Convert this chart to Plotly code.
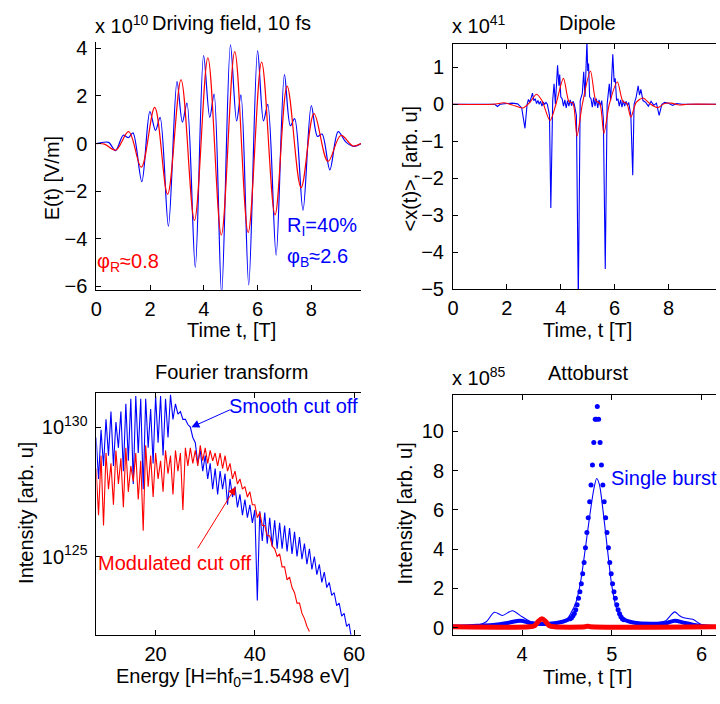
import plotly.graph_objects as go

FONT = "Liberation Sans, Arial, Helvetica, sans-serif"
BLUE = "#0000ff"
RED = "#ff0000"
W, H = 720, 704

# ---------------- Panel 1: Driving field (x 1e10 V/m) ----------------
field_red_t = [0.0, 0.3, 0.72, 1.2, 1.67, 2.17, 2.65, 3.15, 3.65, 4.15, 4.65, 5.15,
               5.65, 6.15, 6.65, 7.1, 7.62, 8.1, 8.62, 9.1, 9.55, 9.85]
field_red_E = [0.0, -0.02, -0.27, 0.5, -0.99, 1.52, -2.12, 2.68, -3.22, 3.6, -3.84, 3.86,
               -3.73, 3.42, -2.99, 2.41, -1.85, 1.26, -0.75, 0.34, -0.1, 0.0]
field_blue_t = [0.0, 0.45, 0.71, 1.0, 1.19, 1.36, 1.69,
                1.99, 2.2, 2.37, 2.68,
                3.0, 3.2, 3.37, 3.68,
                3.99, 4.22, 4.38, 4.66,
                4.99, 5.22, 5.38, 5.67,
                6.0, 6.22, 6.38, 6.69,
                7.0, 7.22, 7.38, 7.69,
                8.0, 8.23, 8.4, 8.69,
                9.0, 9.3, 9.6, 9.85]
field_blue_E = [0.0, 0.05, -0.3, 0.35, 0.25, 0.45, -1.6,
                1.34, 0.55, 1.1, -3.47,
                2.6, 0.9, 1.7, -5.2,
                3.7, 1.1, 2.08, -6.3,
                4.15, 0.95, 2.05, -5.93,
                3.9, 0.95, 1.65, -4.68,
                2.9, 0.75, 1.05, -2.8,
                1.6, 0.3, 0.4, -1.1,
                0.5, 0.05, -0.12, 0.0]

# ---------------- Panel 2: Dipole (x 1e41) ----------------
dip_red_t = [0.0, 1.5, 1.9, 2.2, 2.6, 2.85, 3.1, 3.3, 3.6, 3.82, 4.1, 4.3, 4.45, 4.6, 4.8,
             5.1, 5.3, 5.45, 5.6, 5.8, 6.1, 6.3, 6.45, 6.6, 6.8, 7.05, 7.3, 7.6, 7.85,
             8.1, 8.4, 8.7, 9.76]
dip_red_x = [0.0, 0.0, 0.04, -0.02, -0.1, 0.05, 0.27, 0.1, -0.44, 0.0, 0.7, 0.08, 0.03, -0.86, 0.0,
             0.9, 0.1, 0.02, -0.79, 0.0, 0.6, 0.08, 0.02, -0.35, 0.05, 0.17, 0.02, -0.09, 0.02,
             0.03, -0.02, 0.0, 0.0]
dip_blue_t = [0.0, 1.55, 1.65, 1.75, 2.0, 2.2, 2.4, 2.55, 2.67, 2.75, 2.8, 2.85, 2.95, 3.0,
              3.05, 3.1, 3.15, 3.2, 3.25, 3.3, 3.35, 3.4, 3.45, 3.5, 3.58, 3.63, 3.7, 3.75,
              3.8, 3.88, 3.93, 3.96, 4.0, 4.05, 4.1, 4.15, 4.2, 4.25, 4.3, 4.35, 4.4,
              4.45, 4.5, 4.58, 4.65, 4.72, 4.8, 4.85, 4.9, 4.97, 5.0, 5.03, 5.07,
              5.12, 5.17, 5.22, 5.27, 5.32, 5.37, 5.42, 5.47, 5.52, 5.58, 5.65, 5.72,
              5.8, 5.85, 5.93, 5.98, 6.02, 6.07, 6.12, 6.17, 6.22, 6.27, 6.32, 6.37,
              6.42, 6.47, 6.52, 6.6, 6.67, 6.72, 6.8, 6.87, 6.92, 6.97, 7.05, 7.15,
              7.25, 7.35, 7.45, 7.55, 7.65, 7.75, 7.85, 8.0, 8.15, 8.3, 8.5, 9.76]
dip_blue_x = [0.0, 0.0, -0.06, 0.0, 0.02, 0.03, 0.01, -0.1, -0.65, 0.0, 0.13, 0.05, 0.3, 0.1,
              0.15, 0.02, 0.1, 0.0, 0.08, -0.05, 0.06, 0.0, 0.05, 0.0, -0.3, -2.8, 0.1, 0.55,
              0.0, 1.05, 0.5, 0.8, 0.2, 0.15, -0.05, 0.12, -0.1, 0.1, -0.05, 0.12, -0.04,
              0.08, 0.0, -0.3, -5.3, 0.1, 0.3, 0.88, 0.2, 1.7, 0.9, 1.1, 0.2,
              0.15, -0.08, 0.18, -0.05, 0.15, -0.1, 0.12, -0.05, 0.1, -0.4, -4.45, 0.0,
              0.55, 0.1, 1.35, 0.6, 0.7, 0.1, 0.15, -0.05, 0.12, -0.08, 0.1, -0.05,
              0.08, -0.03, 0.05, -0.3, -1.92, 0.0, 0.2, 0.5, 0.25, 0.4, 0.1, 0.05,
              -0.05, 0.08, -0.03, 0.03, -0.3, 0.0, 0.05, 0.03, -0.03, 0.02, 0.0, 0.0]

# ---------------- Panel 3: Fourier transform (log10 intensity) ----------------
fft_harm = list(range(8, 61))            # harmonic order of each peak
blue_peak_log = [129.6, 129.9, 130.3, 130.6, 130.2, 130.6, 130.9, 131.1, 131.2, 131.1,
                 131.1, 130.7, 131.2, 131.2, 131.1, 131.25, 130.9, 130.6, 130.3, 130.0,
                 129.4, 129.1, 128.9, 128.6, 128.4, 128.3, 128.2, 128.0, 127.7, 127.4,
                 127.2, 127.0, 126.8, 126.75, 126.7, 126.5, 126.4, 126.3, 126.2, 126.1,
                 125.95, 125.75, 125.5, 125.3, 125.0, 124.7, 124.4, 124.0, 123.6, 123.2,
                 122.8, 122.4, 121.9]
blue_trough_log = [128.0, 128.5, 128.9, 128.5, 129.2, 128.3, 128.7, 127.8, 129.0, 127.6,
                   129.2, 128.6, 129.4, 128.9, 129.6, 130.3, 130.5, 130.3, 130.1, 129.6,
                   128.6, 128.3, 128.0, 127.6, 127.4, 127.6, 127.0, 127.3, 126.9, 126.6,
                   126.5, 126.3, 123.3, 125.6, 125.5, 125.4, 125.3, 125.3, 125.2, 125.1,
                   125.0, 124.9, 124.7, 124.5, 124.3, 124.0, 123.8, 123.5, 123.1, 122.7,
                   122.3, 121.8]
red_harm = list(range(8, 52))
red_peak_log = [128.4, 128.9, 129.0, 128.6, 129.1, 128.8, 129.2, 128.5, 129.0, 128.7,
                129.3, 128.9, 129.0, 128.7, 129.1, 128.9, 129.1, 129.0, 129.2, 129.2,
                129.1, 129.3, 129.2, 129.1, 129.0, 129.0, 128.9, 128.6, 128.3, 128.0,
                127.7, 127.5, 127.0, 126.7, 126.2, 125.8, 125.3, 125.1, 124.6, 124.2,
                123.6, 123.2, 122.6, 122.1]
red_trough_log = [126.6, 126.2, 127.6, 127.0, 127.8, 126.9, 127.5, 127.9, 127.2, 126.0,
                  127.7, 127.3, 128.0, 127.5, 128.2, 127.4, 128.3, 126.8, 128.5, 128.6,
                  128.5, 128.7, 128.6, 128.7, 128.5, 128.4, 128.3, 128.0, 127.8, 127.6,
                  127.3, 127.0, 126.5, 126.2, 125.8, 125.4, 125.0, 124.6, 124.1, 123.8,
                  123.2, 122.8, 122.3]

# ---------------- Panel 4: Attoburst (x 1e85) ----------------
burst_line_t = [3.23, 3.5, 3.6, 3.69, 3.78, 3.89, 4.0, 4.1, 4.2, 4.3, 4.4, 4.5, 4.55, 4.6,
                4.65, 4.7, 4.75, 4.8, 4.83, 4.86, 4.9, 4.95, 5.0, 5.05, 5.1, 5.2, 5.3, 5.5,
                5.6, 5.65, 5.7, 5.75, 5.8, 5.9, 6.0, 6.16]
burst_line_I = [0.05, 0.12, 0.3, 0.78, 0.62, 0.86, 0.55, 0.3, 0.25, 0.22, 0.28, 0.45, 0.8, 1.3,
                2.3, 3.9, 5.6, 7.1, 7.6, 7.3, 6.0, 4.0, 2.1, 1.0, 0.55, 0.3, 0.25, 0.25,
                0.35, 0.6, 0.8, 0.62, 0.5, 0.42, 0.15, 0.05]
burst_dot_t = [4.535, 4.55, 4.566, 4.581, 4.597, 4.612, 4.628, 4.643, 4.659, 4.674, 4.690,
               4.705, 4.721, 4.736, 4.752, 4.767, 4.783, 4.798, 4.814, 4.826, 4.837,
               4.852, 4.868, 4.883, 4.899, 4.914, 4.930, 4.945, 4.961, 4.976, 4.992,
               5.007, 5.023, 5.038, 5.054, 5.069, 5.085, 5.100, 5.116, 5.131]
burst_dot_I = [0.45, 0.5, 0.6, 0.72, 0.91, 1.16, 1.5, 1.83, 2.24, 2.74, 3.32,
               4.07, 4.85, 5.6, 6.41, 7.27, 8.29, 9.43, 10.61, 10.61, 11.26,
               10.61, 9.43, 8.29, 7.27, 6.41, 5.6, 4.85, 4.07, 3.32, 2.74,
               2.24, 1.83, 1.5, 1.16, 0.91, 0.71, 0.55, 0.45, 0.4]
burst_base_left_t = [3.23, 3.5, 3.7, 3.85, 3.98, 4.1, 4.3, 4.45, 4.535]
burst_base_left_I = [0.05, 0.1, 0.15, 0.25, 0.35, 0.22, 0.2, 0.3, 0.45]
burst_base_right_t = [5.131, 5.2, 5.3, 5.45, 5.6, 5.7, 5.8, 5.9, 6.0, 6.16]
burst_base_right_I = [0.4, 0.3, 0.22, 0.2, 0.22, 0.35, 0.25, 0.15, 0.08, 0.03]
burst_red_t = [3.23, 4.08, 4.14, 4.18, 4.22, 4.26, 4.3, 4.36, 4.7, 4.73, 4.76, 6.16]
burst_red_I = [0.04, 0.04, 0.1, 0.32, 0.45, 0.32, 0.1, 0.04, 0.04, 0.07, 0.04, 0.04]

# ---------------------------------------------------------------------
def ppx(x):
    return x / W


def ppy(y):
    return 1 - y / H


fig = go.Figure()

# Panel 1
fig.add_trace(go.Scatter(x=field_blue_t, y=field_blue_E, mode="lines", xaxis="x", yaxis="y",
                         line=dict(color=BLUE, width=1.2, shape="spline", smoothing=0.9)))
fig.add_trace(go.Scatter(x=field_red_t, y=field_red_E, mode="lines", xaxis="x", yaxis="y",
                         line=dict(color=RED, width=1.2, shape="spline", smoothing=1.0)))

# Panel 2
fig.add_trace(go.Scatter(x=dip_blue_t, y=dip_blue_x, mode="lines", xaxis="x2", yaxis="y2",
                         line=dict(color=BLUE, width=1.1)))
fig.add_trace(go.Scatter(x=dip_red_t, y=dip_red_x, mode="lines", xaxis="x2", yaxis="y2",
                         line=dict(color=RED, width=1.1, shape="spline", smoothing=0.8)))

# Panel 3
bx, by = [], []
for i, h in enumerate(fft_harm):
    bx.append(h)
    by.append(10 ** blue_peak_log[i])
    if i < len(blue_trough_log):
        bx.append(h + 0.5)
        by.append(10 ** blue_trough_log[i])
rx, ry = [], []
for i, h in enumerate(red_harm):
    rx.append(h)
    ry.append(10 ** red_peak_log[i])
    if i < len(red_trough_log):
        rx.append(h + 0.5)
        ry.append(10 ** red_trough_log[i])
fig.add_trace(go.Scatter(x=bx, y=by, mode="lines", xaxis="x3", yaxis="y3",
                         line=dict(color=BLUE, width=1.1)))
fig.add_trace(go.Scatter(x=rx, y=ry, mode="lines", xaxis="x3", yaxis="y3",
                         line=dict(color=RED, width=1.1)))

# Panel 4
fig.add_trace(go.Scatter(x=burst_base_left_t, y=burst_base_left_I, mode="lines", xaxis="x4", yaxis="y4",
                         line=dict(color=BLUE, width=4, shape="spline")))
fig.add_trace(go.Scatter(x=burst_base_right_t, y=burst_base_right_I, mode="lines", xaxis="x4", yaxis="y4",
                         line=dict(color=BLUE, width=4, shape="spline")))
fig.add_trace(go.Scatter(x=burst_line_t, y=burst_line_I, mode="lines", xaxis="x4", yaxis="y4",
                         line=dict(color=BLUE, width=1.1, shape="spline", smoothing=0.8)))
fig.add_trace(go.Scatter(x=burst_dot_t, y=burst_dot_I, mode="markers", xaxis="x4", yaxis="y4",
                         marker=dict(color=BLUE, size=5, line=dict(width=0))))
fig.add_trace(go.Scatter(x=burst_red_t, y=burst_red_I, mode="lines", xaxis="x4", yaxis="y4",
                         line=dict(color=RED, width=5, shape="spline", smoothing=0.8)))

tickfont = dict(family=FONT, size=20, color="black")


def xax(dom, rng, tv, ttext=None, top=True, anchor="y"):
    d = dict(domain=dom, range=rng, tickvals=tv, ticks="inside", ticklen=5, tickcolor="black",
             showline=True, linecolor="black", linewidth=1, mirror="ticks" if top else False,
             showgrid=False, zeroline=False, tickfont=tickfont, anchor=anchor,
             ticklabelstandoff=1)
    if ttext is not None:
        d["ticktext"] = ttext
    return d


def yax(dom, rng, tv, ttext=None, anchor="x", typ="linear"):
    d = dict(domain=dom, range=rng, tickvals=tv, ticks="inside", ticklen=5, tickcolor="black",
             showline=True, linecolor="black", linewidth=1, mirror=False, type=typ,
             showgrid=False, zeroline=False, tickfont=tickfont, anchor=anchor,
             ticklabelstandoff=4)
    if ttext is not None:
        d["ticktext"] = ttext
    return d


LX = [ppx(91.7), ppx(360)]
RX = [ppx(453.3), 1.0]

fig.update_layout(
    width=W, height=H, margin=dict(l=0, r=0, t=0, b=0),
    paper_bgcolor="white", plot_bgcolor="white", showlegend=False,
    font=dict(family=FONT, size=20, color="black"),
    xaxis=xax(LX, [0, 9.85], [0, 2, 4, 6, 8], top=False, anchor="y"),
    yaxis=yax([ppy(291.7), ppy(38)], [-6.15, 4.26], [-6, -4, -2, 0, 2, 4], anchor="x"),
    xaxis2=xax(RX, [0, 9.76], [0, 2, 4, 6, 8], anchor="y2"),
    yaxis2=yax([ppy(291), ppy(40)], [-5, 1.625], [-5, -4, -3, -2, -1, 0, 1], anchor="x2"),
    xaxis3=xax(LX, [8.07, 61.4], [20, 40, 60], anchor="y3"),
    yaxis3=yax([ppy(644.3), ppy(397)], [121.98, 131.32], [1e125, 1e130],
               ["10<sup>125</sup>", "10<sup>130</sup>"], anchor="x3", typ="log"),
    xaxis4=xax(RX, [3.229, 6.16], [4, 5, 6], anchor="y4"),
    yaxis4=yax([ppy(644.3), ppy(398.7)], [-0.36, 11.87], [0, 2, 4, 6, 8, 10], anchor="x4"),
)

ann = []


def text(x, y, s, color="black", size=20, angle=0, xanchor="center"):
    ann.append(dict(x=ppx(x), y=ppy(y), xref="paper", yref="paper", text=s, showarrow=False,
                    font=dict(family=FONT, size=size, color=color), textangle=angle,
                    xanchor=xanchor, yanchor="middle", borderpad=0))


# titles
text(229, 18, "Driving field, 10 fs")
text(590, 18, "Dipole")
text(229, 376, "Fourier transform")
text(590, 377, "Attoburst")
# exponent labels
text(89, 20, "x 10<sup>10</sup>", xanchor="left")
text(451, 20, "x 10<sup>41</sup>", xanchor="left")
text(451, 380, "x 10<sup>85</sup>", xanchor="left")
# axis titles
text(229, 333, "Time t, [T]")
text(590, 333, "Time, t [T]")
text(230, 688, "Energy [H=hf<sub>0</sub>=1.5498 eV]")
text(590, 688, "Time, t [T]")
text(47, 177, "E(t) [V/m]", angle=-90)
text(410, 167, "<x(t)>, [arb. u]", angle=-90)
text(20, 520, "Intensity [arb. u]", angle=-90)
text(405, 520, "Intensity [arb. u]", angle=-90)
# in-plot labels
text(284, 227, "R<sub>I</sub>=40%", color=BLUE, xanchor="left")
text(284, 258, "φ<sub>B</sub>≈2.6", color=BLUE, xanchor="left")
text(91, 263, "φ<sub>R</sub>≈0.8", color=RED, xanchor="left")
text(225, 410, "Smooth cut off", color=BLUE, xanchor="left")
text(92, 571, "Modulated cut off", color=RED, xanchor="left")
text(612, 484, "Single burst", color=BLUE, xanchor="left")

# arrows (head position in paper coords, tail offset in pixels)
ann.append(dict(x=ppx(188), y=ppy(432), ax=40, ay=-18, xref="paper", yref="paper",
                axref="pixel", ayref="pixel", showarrow=True, arrowhead=2, arrowsize=1.6,
                arrowwidth=1, arrowcolor=BLUE, text=""))
ann.append(dict(x=ppx(233), y=ppy(493), ax=-39, ay=63, xref="paper", yref="paper",
                axref="pixel", ayref="pixel", showarrow=True, arrowhead=2, arrowsize=1.6,
                arrowwidth=1, arrowcolor=RED, text=""))

fig.update_layout(annotations=ann)
fig.write_html("out.html")
